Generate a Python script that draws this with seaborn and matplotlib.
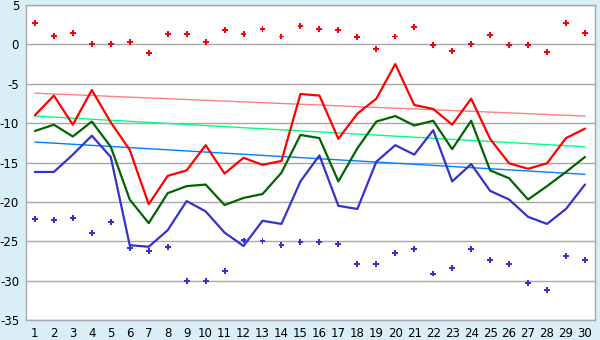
import matplotlib
matplotlib.use("Agg")
import matplotlib.pyplot as plt
import seaborn as sns

days = list(range(1, 31))

t_max = [-9.0, -6.5, -10.2, -5.8, -9.9, -13.4, -20.3, -16.7, -16.0, -12.8,
         -16.4, -14.4, -15.3, -14.8, -6.3, -6.5, -12.0, -8.8, -6.9, -2.5,
         -7.7, -8.2, -10.2, -6.9, -12.0, -15.1, -15.8, -15.1, -11.9, -10.7]
t_mean = [-11.0, -10.2, -11.7, -9.8, -13.0, -19.7, -22.7, -18.9, -18.0, -17.8,
          -20.4, -19.5, -19.0, -16.3, -11.5, -11.9, -17.4, -13.2, -9.8, -9.1,
          -10.3, -9.7, -13.3, -9.7, -16.0, -17.0, -19.7, -18.0, -16.2, -14.3]
t_min = [-16.2, -16.2, -14.0, -11.6, -14.3, -25.5, -25.7, -23.6, -19.9, -21.2,
         -23.9, -25.6, -22.4, -22.8, -17.4, -14.1, -20.5, -20.9, -14.9, -12.8,
         -14.0, -10.9, -17.4, -15.2, -18.6, -19.7, -21.9, -22.8, -20.9, -17.8]
rec_high = [2.7, 1.1, 1.5, 0.0, 0.0, 0.3, -1.1, 1.3, 1.3, 0.3,
            1.8, 1.3, 1.9, 1.0, 2.3, 1.9, 1.8, 0.9, -0.6, 1.0,
            2.2, -0.1, -0.8, 0.1, 1.2, -0.1, -0.1, -1.0, 2.7, 1.5]
rec_low = [-22.2, -22.3, -22.0, -24.0, -22.6, -25.8, -26.2, -25.7, -30.0, -30.0,
           -28.8, -24.9, -25.0, -25.5, -25.1, -25.1, -25.4, -27.9, -27.9, -26.5,
           -26.0, -29.1, -28.4, -26.0, -27.4, -27.9, -30.3, -31.2, -26.9, -27.4]

# normal (trend) lines, start and end of month
trend_days = [1, 30]
norm_max = [-6.2, -9.1]
norm_mean = [-9.1, -13.0]
norm_min = [-12.4, -16.5]

bg = "#d9eef6"
sns.set_style("white")
plt.rcParams['font.family'] = ['DejaVu Sans']
plt.rcParams['axes.unicode_minus'] = False

fig = plt.figure(figsize=(6, 3.4), dpi=100, facecolor=bg)
ax = fig.add_axes([0.0433, 0.0588, 0.9484, 0.9265])
ax.set_facecolor("white")

sns.lineplot(x=trend_days, y=norm_max, color="#ff8080", lw=1.0, ax=ax)
sns.lineplot(x=trend_days, y=norm_mean, color="#00ff80", lw=1.0, ax=ax)
sns.lineplot(x=trend_days, y=norm_min, color="#0080ff", lw=1.0, ax=ax)

sns.lineplot(x=days, y=t_max, color="#ff0000", lw=1.6, ax=ax)
sns.lineplot(x=days, y=t_mean, color="#006400", lw=1.6, ax=ax)
sns.lineplot(x=days, y=t_min, color="#3333cc", lw=1.6, ax=ax)

sns.scatterplot(x=days, y=rec_high, color="#ff0000", marker="P", s=18,
                edgecolor="none", ax=ax)
sns.scatterplot(x=days, y=rec_low, color="#3333cc", marker="P", s=18,
                edgecolor="none", ax=ax)

ax.set_xlim(0.53, 30.53)
ax.set_ylim(-35, 5)
ax.set_xticks(days)
ax.set_yticks(range(-35, 6, 5))
ax.set_xlabel("")
ax.set_ylabel("")
ax.yaxis.grid(True, color="#a8a8a8", lw=1)
ax.xaxis.grid(False)
ax.set_axisbelow(True)
for s in ax.spines.values():
    s.set_color("#a8a8a8")
    s.set_linewidth(1)
ax.tick_params(axis="both", direction="out", length=4, width=1,
               color="#a8a8a8", labelsize=8.5, pad=1, labelcolor="black")

fig.savefig("out.png", dpi=100, facecolor=bg)
